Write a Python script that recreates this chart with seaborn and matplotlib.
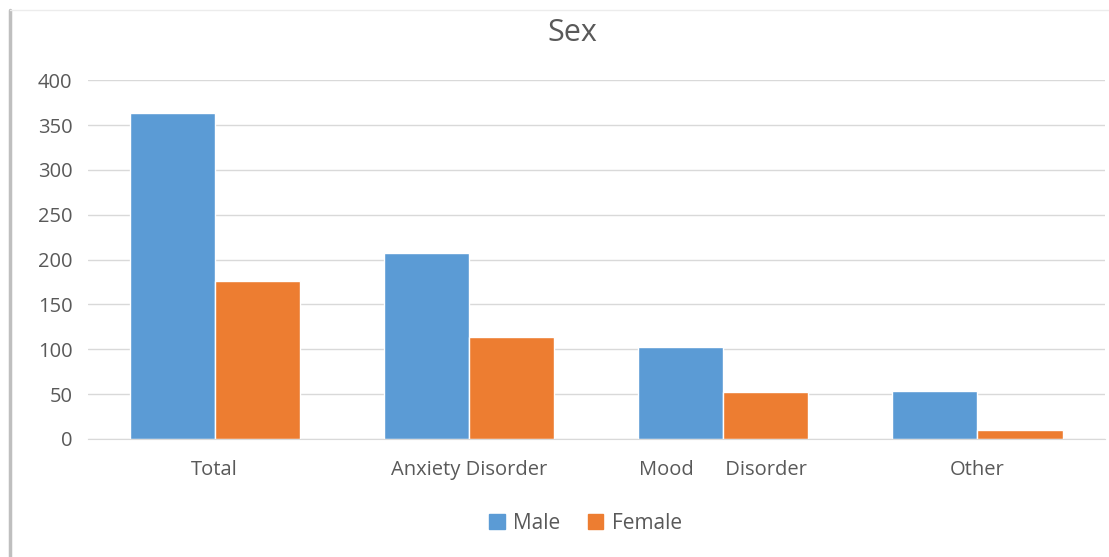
import matplotlib
matplotlib.use("Agg")
import matplotlib.pyplot as plt
import seaborn as sns
import pandas as pd
from matplotlib.lines import Line2D

categories = ["Total", "Anxiety Disorder", "Mood      Disorder", "Other"]
male = [363, 207, 102, 53]
female = [176, 114, 52, 10]
series = ["Male", "Female"]
yticks = [0, 50, 100, 150, 200, 250, 300, 350, 400]

df = pd.DataFrame({
    "category": categories * 2,
    "sex": [series[0]] * len(categories) + [series[1]] * len(categories),
    "count": male + female,
})

sns.set_style("white")
plt.rcParams["font.family"] = ["Open Sans", "DejaVu Sans"]

fig = plt.figure(figsize=(11.09, 5.57), dpi=100)
ax = fig.add_axes([0.079, 0.212, 0.917, 0.644])

sns.barplot(data=df, x="category", y="count", hue="sex", order=categories,
            hue_order=series, palette=["#5B9BD5", "#ED7D31"], width=0.67,
            saturation=1, ax=ax, legend=False)

ax.set_ylim(0, 400)
ax.set_yticks(yticks)
ax.set_xlim(-0.5, len(categories) - 0.5)
ax.yaxis.grid(True, color="#d9d9d9", linewidth=1)
ax.set_axisbelow(True)
for s in ["top", "right", "left"]:
    ax.spines[s].set_visible(False)
ax.spines["bottom"].set_color("#d9d9d9")
ax.tick_params(axis="both", length=0, labelsize=14.5, colors="#595959")
ax.tick_params(axis="x", pad=15)
ax.tick_params(axis="y", pad=11)
ax.set_xlabel("")
ax.set_ylabel("")

# title sits a bit left of the plot-area centre, as in the source
fig.text(0.516, 0.94, "Sex", fontsize=22, color="#595959", ha="center", va="center")

handles = [plt.Rectangle((0, 0), 1, 1, color=c) for c in ["#5B9BD5", "#ED7D31"]]
leg = fig.legend(handles, series, loc="center", bbox_to_anchor=(0.528, 0.061), ncol=2,
                 frameon=False, fontsize=15, handlelength=0.75, handleheight=0.75,
                 handletextpad=0.4, columnspacing=1.3)
for t in leg.get_texts():
    t.set_color("#595959")

fig.add_artist(Line2D([0.009, 0.009], [0, 0.982], color="#bfbfbf", linewidth=2.5))
fig.add_artist(Line2D([0.009, 1.0], [0.982, 0.982], color="#ececec", linewidth=1))

fig.savefig("out.png", dpi=100)
